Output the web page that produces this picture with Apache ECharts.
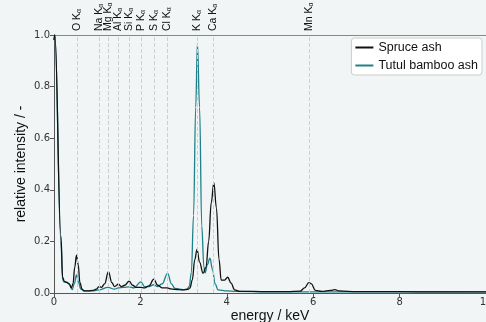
<!DOCTYPE html>
<html>
<head>
<meta charset="utf-8">
<script src="https://cdn.jsdelivr.net/npm/echarts@6/dist/echarts.min.js"></script>
<style>
html, body { margin: 0; padding: 0; background: #f1f5f6; }
#main { width: 486px; height: 322px; }
</style>
</head>
<body>
<div id="main"></div>
<script>
// EDX spectra
var spruceE = [0, 0.02, 0.16, 0.2, 0.24, 0.3, 0.35, 0.4, 0.44, 0.48, 0.52, 0.56, 0.6, 0.65, 0.7, 0.8, 0.9, 0.98, 1.04, 1.1, 1.17, 1.26, 1.34, 1.4, 1.49, 1.56, 1.64, 1.74, 1.82, 1.9, 2.0, 2.1, 2.2, 2.31, 2.4, 2.5, 2.62, 2.7, 2.8, 2.9, 3.0, 3.1, 3.15, 3.2, 3.26, 3.31, 3.37, 3.45, 3.52, 3.58, 3.64, 3.7, 3.76, 3.82, 3.87, 3.95, 4.02, 4.1, 4.18, 4.3, 4.6, 5.0, 5.4, 5.7, 5.8, 5.9, 5.96, 6.05, 6.2, 6.4, 6.5, 6.6, 7.0, 8.0, 9.0, 10.0];
var spruce = [0.98, 1.0, 0.22, 0.06, 0.045, 0.04, 0.035, 0.02, 0.035, 0.1, 0.147, 0.11, 0.04, 0.015, 0.008, 0.008, 0.01, 0.015, 0.025, 0.022, 0.035, 0.083, 0.04, 0.025, 0.034, 0.025, 0.03, 0.046, 0.03, 0.022, 0.022, 0.02, 0.028, 0.054, 0.03, 0.02, 0.02, 0.016, 0.014, 0.013, 0.012, 0.014, 0.02, 0.05, 0.13, 0.169, 0.12, 0.076, 0.1, 0.2, 0.35, 0.428, 0.33, 0.13, 0.05, 0.05, 0.061, 0.038, 0.012, 0.006, 0.006, 0.005, 0.005, 0.007, 0.02, 0.04, 0.035, 0.01, 0.006, 0.01, 0.013, 0.008, 0.005, 0.005, 0.004, 0.004];

var bambooE = [0, 0.02, 0.16, 0.2, 0.24, 0.3, 0.35, 0.42, 0.47, 0.52, 0.57, 0.62, 0.7, 0.9, 1.04, 1.25, 1.4, 1.49, 1.6, 1.74, 1.85, 2.01, 2.1, 2.2, 2.31, 2.4, 2.5, 2.63, 2.72, 2.8, 2.9, 3.0, 3.08, 3.13, 3.18, 3.23, 3.28, 3.32, 3.37, 3.42, 3.47, 3.5, 3.55, 3.61, 3.67, 3.73, 3.8, 4.0, 4.2, 5.0, 6.0, 8.0, 10.0];
var bamboo = [0.98, 1.0, 0.2, 0.05, 0.042, 0.042, 0.035, 0.013, 0.035, 0.07, 0.04, 0.015, 0.008, 0.008, 0.012, 0.022, 0.015, 0.02, 0.022, 0.024, 0.02, 0.043, 0.025, 0.025, 0.032, 0.025, 0.035, 0.076, 0.035, 0.018, 0.015, 0.013, 0.016, 0.025, 0.08, 0.3, 0.72, 0.968, 0.72, 0.26, 0.1, 0.078, 0.11, 0.135, 0.09, 0.035, 0.012, 0.008, 0.006, 0.004, 0.004, 0.005, 0.004];

var lineNames = ['O', 'Na', 'Mg', 'Al', 'Si', 'P', 'S', 'Cl', 'K', 'Ca', 'Mn'];
var lineEnergies = [0.525, 1.041, 1.254, 1.487, 1.74, 2.013, 2.307, 2.622, 3.314, 3.692, 5.899];

var xTicks = [0, 2, 4, 6, 8, 10];
var yTicks = [0.0, 0.2, 0.4, 0.6, 0.8, 1.0];

function pairs(xs, ys) {
    return xs.map(function (x, i) { return [x, ys[i]]; });
}

var myChart = echarts.init(document.getElementById('main'));
var option = {
    backgroundColor: '#f1f5f6',
    animation: false,
    grid: { left: 54, right: 0, top: 35, bottom: 29, outerBoundsMode: 'none', containLabel: false },
    legend: {
        orient: 'vertical',
        right: 4,
        top: 38,
        padding: [3, 4, 3, 4],
        itemGap: 5,
        itemWidth: 18,
        itemHeight: 2,
        icon: 'rect',
        backgroundColor: '#ffffff',
        borderColor: '#cccccc',
        borderWidth: 1,
        borderRadius: 3,
        textStyle: { fontFamily: 'Liberation Sans', fontSize: 12.5, color: '#111' },
        data: ['Spruce ash', 'Tutul bamboo ash']
    },
    xAxis: [{
        type: 'value',
        min: 0,
        max: 10,
        interval: 2,
        name: 'energy / keV',
        nameLocation: 'middle',
        nameGap: 16,
        nameMoveOverlap: false,
        nameTextStyle: { fontFamily: 'Liberation Sans', fontSize: 14, color: '#111' },
        axisLine: { lineStyle: { color: '#555', width: 1 } },
        axisTick: { length: 4, lineStyle: { color: '#555' } },
        axisLabel: {
            fontFamily: 'DejaVu Sans', fontSize: 10, color: '#333', margin: 4,
            formatter: function (v) { return xTicks.indexOf(v) >= 0 ? String(v) : ''; }
        },
        splitLine: { show: false }
    }, {
        type: 'value',
        position: 'top',
        min: 0,
        max: 10,
        axisLine: { show: true, onZero: false, lineStyle: { color: '#888', width: 1 } },
        axisTick: { show: false },
        axisLabel: { show: false },
        splitLine: { show: false }
    }],
    yAxis: {
        type: 'value',
        min: 0,
        max: 1,
        interval: 0.2,
        name: 'relative intensity / -',
        nameLocation: 'middle',
        nameGap: 26,
        nameMoveOverlap: false,
        nameTextStyle: { fontFamily: 'Liberation Sans', fontSize: 14, color: '#111' },
        axisLine: { show: true, lineStyle: { color: '#555', width: 1 } },
        axisTick: { show: true, length: 4, lineStyle: { color: '#555' } },
        axisLabel: {
            fontFamily: 'DejaVu Sans', fontSize: 10, color: '#333', margin: 4,
            formatter: function (v) { return v.toFixed(1); }
        },
        splitLine: { show: false }
    },
    series: [{
        name: 'Spruce ash',
        type: 'line',
        data: pairs(spruceE, spruce),
        smooth: 0.4,
        smoothMonotone: 'x',
        showSymbol: false,
        color: '#111111',
        lineStyle: { width: 1.3 },
        z: 3,
        markLine: {
            silent: true,
            symbol: 'none',
            label: { show: false },
            lineStyle: { color: '#cfcfcf', type: 'dashed', width: 1 },
            data: lineEnergies.map(function (e) { return { xAxis: e }; })
        },
        markPoint: {
            silent: true,
            symbol: 'circle',
            symbolSize: 0,
            label: {
                show: true,
                position: 'top',
                distance: 4,
                rotate: 90,
                align: 'left',
                verticalAlign: 'middle',
                fontFamily: 'Liberation Sans',
                fontSize: 10.5,
                color: '#111',
                rich: { a: { fontSize: 7, verticalAlign: 'bottom', fontFamily: 'Liberation Sans', color: '#111' } }
            },
            data: lineEnergies.map(function (e, i) {
                return { coord: [e, 1], label: { formatter: lineNames[i] + ' K{a|α}' } };
            })
        }
    }, {
        name: 'Tutul bamboo ash',
        type: 'line',
        data: pairs(bambooE, bamboo),
        smooth: 0.4,
        smoothMonotone: 'x',
        showSymbol: false,
        color: '#1f8089',
        lineStyle: { width: 1.3 },
        z: 2
    }]
};
myChart.setOption(option);
</script>
</body>
</html>
